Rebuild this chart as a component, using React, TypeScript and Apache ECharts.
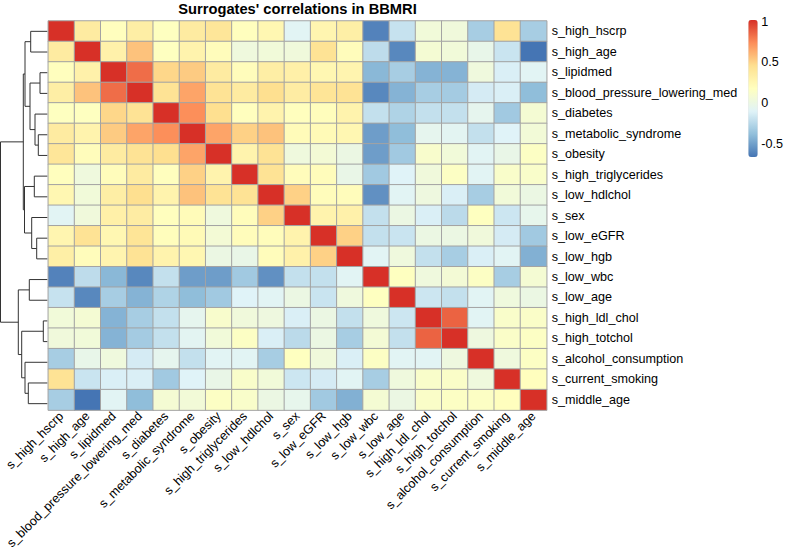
import React, { useEffect, useRef } from "react";
import * as echarts from "echarts";

const labels: string[] = [
  "s_high_hscrp",
  "s_high_age",
  "s_lipidmed",
  "s_blood_pressure_lowering_med",
  "s_diabetes",
  "s_metabolic_syndrome",
  "s_obesity",
  "s_high_triglycerides",
  "s_low_hdlchol",
  "s_sex",
  "s_low_eGFR",
  "s_low_hgb",
  "s_low_wbc",
  "s_low_age",
  "s_high_ldl_chol",
  "s_high_totchol",
  "s_alcohol_consumption",
  "s_current_smoking",
  "s_middle_age",
];

const correlations: number[][] = [
  [1, 0.35, 0.18, 0.33, 0.17, 0.35, 0.4, 0.18, 0.25, -0.08, 0.26, 0.32, -0.6, -0.19, 0.05, 0.04, -0.3, 0.42, -0.3],
  [0.35, 1, 0.3, 0.55, 0.17, 0.28, 0.2, 0.03, 0.05, 0.04, 0.42, 0.2, -0.22, -0.58, 0.08, 0.05, -0.03, -0.18, -0.65],
  [0.18, 0.3, 1, 0.82, 0.48, 0.52, 0.35, 0.2, 0.33, 0.31, 0.25, 0.27, -0.4, -0.3, -0.42, -0.42, 0.03, -0.12, -0.08],
  [0.33, 0.55, 0.82, 1, 0.42, 0.65, 0.42, 0.35, 0.45, 0.34, 0.41, 0.42, -0.58, -0.42, -0.3, -0.31, -0.14, -0.12, -0.38],
  [0.17, 0.17, 0.48, 0.42, 1, 0.72, 0.45, 0.18, 0.28, 0.18, 0.19, 0.28, -0.2, -0.27, -0.2, -0.2, -0.05, -0.32, 0.08],
  [0.35, 0.28, 0.52, 0.65, 0.72, 1, 0.65, 0.5, 0.55, 0.21, 0.22, 0.25, -0.5, -0.38, -0.05, -0.07, -0.2, -0.1, 0.06],
  [0.4, 0.2, 0.35, 0.42, 0.45, 0.65, 1, 0.28, 0.42, 0.03, 0.07, 0.0, -0.5, -0.32, 0.11, 0.05, -0.08, -0.02, 0.15],
  [0.18, 0.03, 0.2, 0.35, 0.18, 0.5, 0.28, 1, 0.42, 0.2, 0.2, -0.02, -0.32, -0.1, 0.04, 0.15, -0.08, 0.12, 0.12],
  [0.25, 0.05, 0.33, 0.45, 0.28, 0.55, 0.42, 0.42, 1, 0.5, 0.2, 0.2, -0.55, -0.08, 0.02, -0.12, -0.3, 0.05, 0.0],
  [-0.08, 0.04, 0.31, 0.34, 0.18, 0.21, 0.03, 0.2, 0.5, 1, 0.28, 0.3, -0.2, 0.0, -0.12, -0.23, 0.17, -0.17, -0.04],
  [0.26, 0.42, 0.25, 0.41, 0.19, 0.22, 0.07, 0.2, 0.2, 0.28, 1, 0.5, -0.2, -0.18, 0.0, 0.0, 0.04, -0.14, -0.32],
  [0.32, 0.2, 0.27, 0.42, 0.28, 0.25, 0.0, -0.02, 0.2, 0.3, 0.5, 1, -0.08, 0.03, -0.2, -0.3, -0.12, -0.08, -0.43],
  [-0.6, -0.22, -0.4, -0.58, -0.2, -0.5, -0.5, -0.32, -0.55, -0.2, -0.2, -0.08, 1, 0.17, 0.03, 0.07, 0.15, -0.3, 0.08],
  [-0.19, -0.58, -0.3, -0.42, -0.27, -0.38, -0.32, -0.1, -0.08, 0.0, -0.18, 0.03, 0.17, 1, -0.17, -0.2, -0.08, 0.03, 0.0],
  [0.05, 0.08, -0.42, -0.3, -0.2, -0.05, 0.11, 0.04, 0.02, -0.12, 0.0, -0.2, 0.03, -0.17, 1, 0.85, -0.08, 0.12, 0.13],
  [0.04, 0.05, -0.42, -0.31, -0.2, -0.07, 0.05, 0.15, -0.12, -0.23, 0.0, -0.3, 0.07, -0.2, 0.85, 1, 0.02, 0.13, 0.15],
  [-0.3, -0.03, 0.03, -0.14, -0.05, -0.2, -0.08, -0.08, -0.3, 0.17, 0.04, -0.12, 0.15, -0.08, -0.08, 0.02, 1, 0.03, 0.15],
  [0.42, -0.18, -0.12, -0.12, -0.32, -0.1, -0.02, 0.12, 0.05, -0.17, -0.14, -0.08, -0.3, 0.03, 0.12, 0.13, 0.03, 1, 0.18],
  [-0.3, -0.65, -0.08, -0.38, 0.08, 0.06, 0.15, 0.12, 0.0, -0.04, -0.32, -0.43, 0.08, 0.0, 0.13, 0.15, 0.15, 0.18, 1],
];

// Row dendrogram merges: [childA, childB, height]; leaves 0..18, merge k => node 19+k
const dendroMerges: [number, number, number][] = [
  [2, 3, 7.3],
  [14, 15, 4.0],
  [5, 6, 9.0],
  [10, 11, 10.6],
  [4, 21, 12.3],
  [7, 8, 13.0],
  [0, 1, 16.6],
  [9, 22, 15.6],
  [19, 23, 17.3],
  [12, 13, 18.0],
  [17, 18, 19.0],
  [25, 27, 22.3],
  [16, 29, 22.3],
  [24, 26, 22.8],
  [30, 32, 24.0],
  [20, 31, 25.6],
  [28, 34, 29.0],
  [33, 35, 46.8],
];

const legendTicks: number[] = [-0.5, 0, 0.5, 1];
const paletteColors: string[] = ["#4575B4", "#91BFDB", "#E0F3F8", "#FFFFBF", "#FEE090", "#FC8D59", "#D73027"];
const colorMin = -0.65;
const colorMax = 1;

const FONT = "'Liberation Sans', Arial, Helvetica, sans-serif";
const LABEL_SIZE = 12.6;

export default function App() {
  const ref = useRef<HTMLDivElement>(null);
  useEffect(() => {
    if (!ref.current) return;
    const chart = echarts.init(ref.current, undefined, { renderer: "svg" });

    const heatData: number[][] = [];
    correlations.forEach((row, r) => row.forEach((v, c) => heatData.push([c, r, v])));

    const nodeY: number[] = labels.map((_, i) => i);
    const nodeH: number[] = labels.map(() => 0);
    const dendroData = dendroMerges.map(([a, b, h]) => {
      const item = [h, nodeY[a], nodeH[a], nodeY[b], nodeH[b]];
      nodeY.push((nodeY[a] + nodeY[b]) / 2);
      nodeH.push(h);
      return item;
    });

    const hmLeft = 48.3, hmTop = 21, hmW = 498.4, hmH = 393;

    chart.setOption({
      animation: false,
      textStyle: { fontFamily: FONT },
      title: {
        text: "Surrogates' correlations in BBMRI",
        left: hmLeft + hmW / 2,
        textAlign: "center",
        top: 1,
        padding: 0,
        textStyle: { fontFamily: FONT, fontSize: 14.7, fontWeight: "bold", color: "#000" },
      },
      grid: [
        { left: hmLeft, top: hmTop, width: hmW, height: hmH },
        { left: 0, top: hmTop, width: 47.3, height: hmH },
        { left: 748.3, top: 20, width: 9.4, height: 137 },
      ],
      xAxis: [
        {
          type: "category",
          gridIndex: 0,
          data: labels,
          axisLine: { show: false },
          axisTick: { show: false },
          splitLine: { show: false },
          axisLabel: { rotate: 45, fontSize: LABEL_SIZE, color: "#000", margin: 4, interval: 0, fontFamily: FONT },
        },
        { type: "value", gridIndex: 1, min: 0, max: 47.3, inverse: true, show: false },
        { type: "value", gridIndex: 2, min: 0, max: 1, show: false },
      ],
      yAxis: [
        {
          type: "category",
          gridIndex: 0,
          data: labels,
          inverse: true,
          position: "right",
          axisLine: { show: false },
          axisTick: { show: false },
          splitLine: { show: false },
          axisLabel: { fontSize: LABEL_SIZE, color: "#000", margin: 5, interval: 0, fontFamily: FONT },
        },
        { type: "value", gridIndex: 1, min: -0.5, max: 18.5, inverse: true, show: false },
        {
          type: "value",
          gridIndex: 2,
          min: -0.66,
          max: 1.02,
          position: "right",
          axisLine: { show: false },
          axisTick: { show: false },
          splitLine: { show: false },
          axisLabel: { customValues: legendTicks, fontSize: LABEL_SIZE, color: "#000", margin: 5, fontFamily: FONT },
        },
      ],
      visualMap: {
        type: "continuous",
        min: colorMin,
        max: colorMax,
        seriesIndex: 0,
        left: 748.3,
        top: 20,
        itemWidth: 9.4,
        itemHeight: 137,
        padding: 0,
        calculable: false,
        showLabel: false,
        text: ["", ""],
        inRange: { color: paletteColors },
      },
      series: [
        {
          type: "heatmap",
          xAxisIndex: 0,
          yAxisIndex: 0,
          data: heatData,
          itemStyle: { borderColor: "#A3A3A3", borderWidth: 1 },
          emphasis: { disabled: true },
        },
        {
          type: "custom",
          xAxisIndex: 1,
          yAxisIndex: 1,
          data: dendroData,
          silent: true,
          renderItem: (_params: any, api: any) => {
            const h = api.value(0);
            const y1 = api.value(1);
            const h1 = api.value(2);
            const y2 = api.value(3);
            const h2 = api.value(4);
            const pts = [api.coord([h1, y1]), api.coord([h, y1]), api.coord([h, y2]), api.coord([h2, y2])];
            return {
              type: "polyline",
              shape: { points: pts },
              style: { stroke: "#333333", lineWidth: 1, fill: null },
            };
          },
        },
      ],
    });
    return () => chart.dispose();
  }, []);
  return (
    <div
      ref={ref}
      style={{ position: "absolute", left: 0, top: 0, width: 786, height: 552 }}
    />
  );
}
